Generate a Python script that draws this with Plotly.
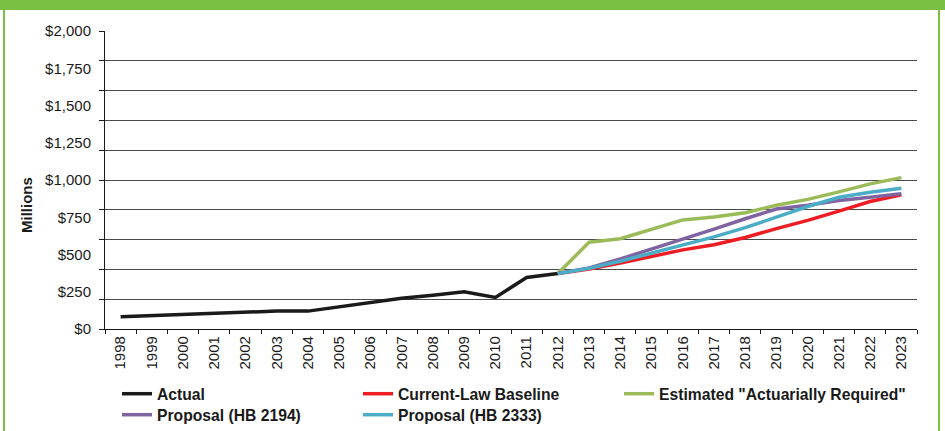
import plotly.graph_objects as go

years = [str(y) for y in range(1998, 2024)]
actual_years = years[:15]            # 1998-2012
proj_years = years[14:]              # 2012-2023

actual = [82, 89, 100, 102, 109, 120, 120, 150, 175, 207, 227, 250, 212, 346, 372]
baseline = [372, 402, 442, 487, 531, 565, 614, 674, 729, 791, 856, 900]
actuarial = [372, 582, 606, 670, 732, 752, 780, 830, 870, 920, 974, 1016]
hb2194 = [372, 410, 470, 535, 600, 670, 740, 805, 830, 862, 884, 908]
hb2333 = [372, 407, 455, 508, 562, 618, 680, 751, 822, 884, 918, 944]

ytick_vals = [0, 250, 500, 750, 1000, 1250, 1500, 1750, 2000]
ytick_text = ["$0", "$250", "$500", "$750", "$1,000", "$1,250", "$1,500", "$1,750", "$2,000"]

FONT = "Liberation Sans, Arial, sans-serif"
W, H = 945, 431
L, R, T, B = 105, 28, 31, 102
PW, PH = W - L - R, H - T - B

def px_x(px):
    return (px - L) / PW

def px_y(py):
    return (H - B - py) / PH

fig = go.Figure()
# placeholder so the gridline axis (y) is registered
fig.add_trace(go.Scatter(x=[], y=[], yaxis="y", showlegend=False, hoverinfo="skip"))

series = [
    ("Actual", actual_years, actual, "#1a1a1a", "legend"),
    ("Proposal (HB 2194)", proj_years, hb2194, "#8064A2", "legend4"),
    ("Current-Law Baseline", proj_years, baseline, "#EE1D23", "legend2"),
    ("Proposal (HB 2333)", proj_years, hb2333, "#4BACC6", "legend5"),
    ("Estimated \"Actuarially Required\"", proj_years, actuarial, "#9BBB59", "legend3"),
]
draw_order = [0, 4, 2, 1, 3]
for i in draw_order:
    name, xs, ys, col, lg = series[i]
    fig.add_trace(go.Scatter(
        x=xs, y=ys, name=name, mode="lines",
        line=dict(color=col, width=3.5),
        yaxis="y2", legend=lg,
    ))

leg_common = dict(
    orientation="v", xanchor="left", yanchor="top",
    font=dict(family=FONT, size=15.7, color="#1a1a1a", weight="bold"),
    bgcolor="rgba(0,0,0,0)",
)
ROW1, ROW2 = 377, 398
C1, C2, C3 = 117, 358, 619
fig.update_layout(
    width=W, height=H,
    margin=dict(l=L, r=R, t=T, b=B, pad=0, autoexpand=False),
    paper_bgcolor="white", plot_bgcolor="white",
    font=dict(family=FONT, size=15, color="#1a1a1a"),
    showlegend=True,
    legend=dict(x=px_x(C1), y=px_y(ROW1), **leg_common),
    legend2=dict(x=px_x(C2), y=px_y(ROW1), **leg_common),
    legend3=dict(x=px_x(C3), y=px_y(ROW1), **leg_common),
    legend4=dict(x=px_x(C1), y=px_y(ROW2), **leg_common),
    legend5=dict(x=px_x(C2), y=px_y(ROW2), **leg_common),
    xaxis=dict(
        type="category", categoryorder="array", categoryarray=years,
        range=[-0.5, len(years) - 0.5],
        tickson="boundaries", ticks="outside", ticklen=4, tickcolor="#1a1a1a",
        showline=True, linecolor="#1a1a1a", linewidth=1.3,
        showgrid=False, tickangle=-90,
        tickfont=dict(family=FONT, size=15, color="#1a1a1a"),
    ),
    yaxis=dict(
        range=[0, 2000], dtick=200, tick0=0,
        showgrid=True, gridcolor="#4a4a4a", gridwidth=1,
        ticks="outside", ticklen=5, tickcolor="#1a1a1a",
        showticklabels=False,
        showline=True, linecolor="#1a1a1a", linewidth=1.3,
        zeroline=False,
    ),
    yaxis2=dict(
        range=[0, 2000], overlaying="y", side="left",
        tickmode="array", tickvals=ytick_vals, ticktext=ytick_text,
        showgrid=False, ticks="", zeroline=False, showline=False,
        ticklabelstandoff=13,
        tickfont=dict(family=FONT, size=15, color="#1a1a1a"),
    ),
)

fig.add_annotation(
    text="<b>Millions</b>", textangle=-90,
    x=px_x(27), y=px_y(205), xref="paper", yref="paper",
    xanchor="center", yanchor="middle",
    showarrow=False, font=dict(family=FONT, size=15, color="#1a1a1a"),
)

GREEN = "#7AC143"
fig.add_shape(type="rect", xref="paper", yref="paper",
              x0=px_x(0), x1=px_x(W), y0=px_y(10), y1=px_y(0),
              fillcolor=GREEN, line=dict(width=0), layer="above")
fig.add_shape(type="line", xref="paper", yref="paper",
              x0=px_x(4), x1=px_x(4), y0=px_y(0), y1=px_y(H),
              line=dict(color=GREEN, width=2))
fig.add_shape(type="line", xref="paper", yref="paper",
              x0=px_x(939), x1=px_x(939), y0=px_y(0), y1=px_y(H),
              line=dict(color=GREEN, width=2))

fig.write_html(
    "out.html",
    config={"displayModeBar": False},
    post_script="document.body.style.margin='0';document.body.style.overflow='hidden';",
)
